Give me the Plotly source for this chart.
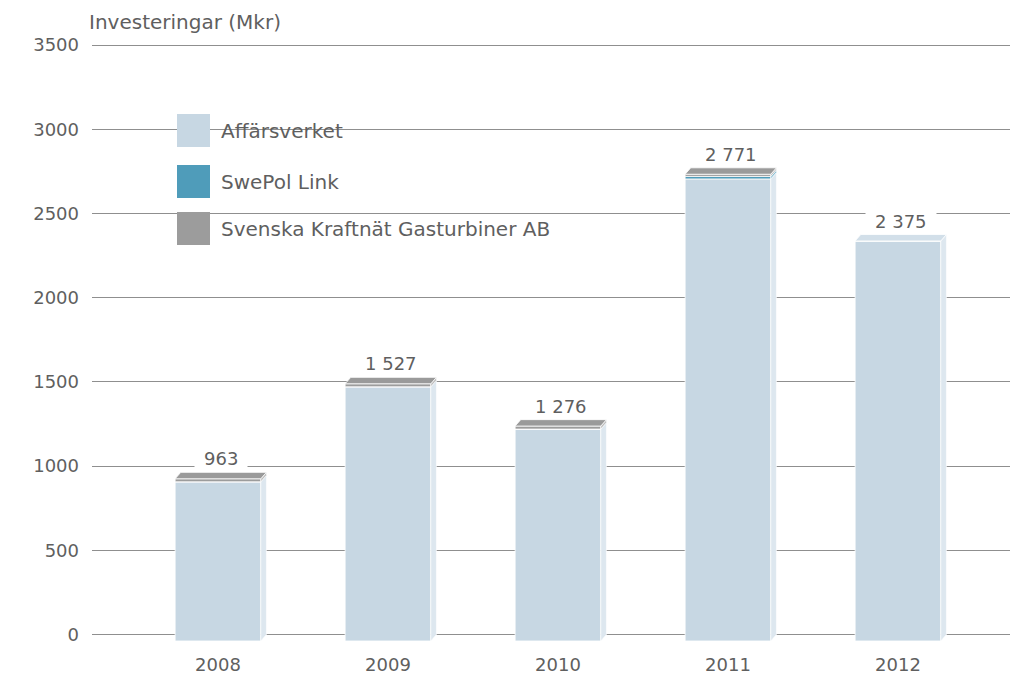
import plotly.graph_objects as go

# ---------------- data ----------------
years = ["2008", "2009", "2010", "2011", "2012"]
affarsverket = [945, 1509, 1258, 2743, 2375]
swepol = [0, 0, 0, 15, 0]
gasturbiner = [18, 18, 18, 13, 0]
totals = [963, 1527, 1276, 2771, 2375]
total_labels = ["963", "1 527", "1 276", "2 771", "2 375"]
series_names = ["Affärsverket", "SwePol Link", "Svenska Kraftnät Gasturbiner AB"]
y_ticks = [0, 500, 1000, 1500, 2000, 2500, 3000, 3500]

# ---------------- style ----------------
FRONT = ["#c7d7e3", "#4f9cba", "#9c9c9c"]
SIDE = ["#dde7ef", "#8cc0d4", "#bdbdbd"]
TOP = ["#d2dfe9", "#6aaec7", "#9a9a9a"]
TEXT = "#5f5f5f"
GRID = "#8f8f8f"
FONT = "DejaVu Sans"
FS = 18          # numbers
FS_TXT = 20      # words

OFF = 0                      # page body margin (removed via post_script)
W, H = 1011 - OFF, 677 - OFF
ML, MR, MT, MB = 92 - OFF, 1, 43 - OFF, 34
Y0, Y1 = -50, 3512
X0, X1 = -0.741, 4.659
BW = 0.504      # bar width (category units)
DX = 0.033      # depth, x units
DY = 38         # depth, y units

xs = list(range(len(years)))
series = [affarsverket, swepol, gasturbiner]

fig = go.Figure()

# cumulative bounds (back-plane coordinates)
lows = [[0] * len(xs) for _ in series]
highs = [[0] * len(xs) for _ in series]
for i in range(len(xs)):
    acc = 0
    for k, s in enumerate(series):
        lows[k][i] = acc
        acc += s[i]
        highs[k][i] = acc

# front faces
for k, s in enumerate(series):
    fig.add_trace(go.Bar(
        x=xs, y=s, base=[lows[k][i] - DY for i in range(len(xs))],
        width=BW, marker=dict(color=FRONT[k], line=dict(color="white", width=0.8)),
        name=series_names[k], showlegend=False, hoverinfo="skip"))

# side faces and top faces
for i, xc in enumerate(xs):
    xr = xc + BW / 2
    xl = xc - BW / 2
    top_k = 0
    for k in range(len(series)):
        if series[k][i] <= 0:
            continue
        top_k = k
        lo, hi = lows[k][i], highs[k][i]
        fig.add_trace(go.Scatter(
            x=[xr, xr + DX, xr + DX, xr, xr],
            y=[lo - DY, lo, hi, hi - DY, lo - DY],
            mode="lines", fill="toself", fillcolor=SIDE[k],
            line=dict(color="white", width=0.6),
            showlegend=False, hoverinfo="skip"))
    v = totals[i]
    fig.add_trace(go.Scatter(
        x=[xl, xr, xr + DX, xl + DX, xl],
        y=[v - DY, v - DY, v, v, v - DY],
        mode="lines", fill="toself", fillcolor=TOP[top_k],
        line=dict(color="white", width=0.8),
        showlegend=False, hoverinfo="skip"))

# value labels
for i, xc in enumerate(xs):
    fig.add_annotation(
        x=xc + DX / 2, y=totals[i], text="\u2002" + total_labels[i] + "\u2002",
        showarrow=False, yanchor="bottom", yshift=2, bgcolor="white", borderpad=0,
        font=dict(family=FONT, size=FS, color=TEXT))

# custom legend (large swatches); positions given in window pixels
PH = H - MT - MB
PW = W - ML - MR


def px_x(p):
    return (p - OFF - ML) / PW


def px_y(p):
    return (H - MB - (p - OFF)) / PH


shapes = [dict(type="rect", xref="paper", yref="paper", layer="between",
               x0=px_x(165), x1=px_x(560), y0=px_y(255), y1=px_y(100),
               fillcolor="white", line=dict(width=0))]
sw_tops = [114, 165, 212]
for k, name in enumerate(series_names):
    t = sw_tops[k]
    shapes.append(dict(type="rect", xref="paper", yref="paper",
                       x0=px_x(177), x1=px_x(210), y0=px_y(t + 33), y1=px_y(t),
                       fillcolor=FRONT[k], line=dict(width=0)))
    fig.add_annotation(xref="paper", yref="paper", x=px_x(219), y=px_y(t + 16.5),
                       text=name, showarrow=False, xanchor="left", yanchor="middle",
                       font=dict(family=FONT, size=FS_TXT, color=TEXT))

fig.add_annotation(xref="paper", yref="paper", x=px_x(87), y=px_y(22),
                   text="Investeringar (Mkr)", showarrow=False,
                   xanchor="left", yanchor="middle",
                   font=dict(family=FONT, size=FS_TXT, color=TEXT))

fig.update_layout(
    width=W, height=H, margin=dict(l=ML, r=MR, t=MT, b=MB),
    paper_bgcolor="white", plot_bgcolor="white",
    barmode="overlay", showlegend=False, shapes=shapes,
    font=dict(family=FONT, size=FS, color=TEXT),
    xaxis=dict(range=[X0, X1], tickmode="array", tickvals=xs, ticktext=years,
               showgrid=False, zeroline=False, showline=False, ticks="",
               ticklabelstandoff=9, tickfont=dict(family=FONT, size=FS, color=TEXT)),
    yaxis=dict(range=[Y0, Y1], tickmode="array", tickvals=y_ticks,
               ticktext=[str(t) for t in y_ticks],
               showgrid=True, gridcolor=GRID, gridwidth=1, zeroline=False,
               showline=False, ticks="", ticklabelstandoff=12,
               tickfont=dict(family=FONT, size=FS, color=TEXT)),
)

fig.write_html(
    "out.html",
    config={"displayModeBar": False},
    post_script="document.body.style.margin='0';document.body.style.overflow='hidden';",
)
